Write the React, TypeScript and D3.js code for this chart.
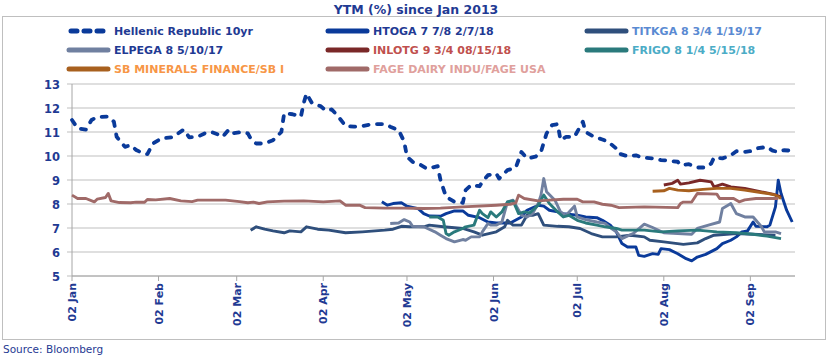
import React from "react";
import * as d3 from "d3";

// ---------- data (date "MM-DD" of 2013, YTM %) ----------
const hellenic: [string, number][] = [
  ["01-02", 11.5], ["01-04", 11.15], ["01-07", 11.1], ["01-09", 11.5], ["01-11", 11.62], ["01-15", 11.64],
  ["01-17", 11.43], ["01-18", 10.8], ["01-21", 10.38], ["01-23", 10.45], ["01-25", 10.25], ["01-28", 10.08],
  ["01-29", 10.08], ["01-31", 10.52], ["02-03", 10.73], ["02-07", 10.78], ["02-09", 10.94], ["02-11", 11.1],
  ["02-13", 10.78], ["02-16", 10.8], ["02-19", 10.97], ["02-21", 11.0], ["02-24", 10.87], ["02-25", 10.8],
  ["02-27", 11.08], ["02-28", 10.94], ["03-04", 11.0], ["03-06", 10.94], ["03-07", 10.73], ["03-08", 10.6],
  ["03-09", 10.52], ["03-12", 10.52], ["03-15", 10.66], ["03-18", 11.0], ["03-19", 11.78], ["03-22", 11.74],
  ["03-25", 11.64], ["03-26", 12.2], ["03-27", 12.6], ["03-29", 12.2], ["04-01", 12.08], ["04-03", 11.89],
  ["04-05", 11.94], ["04-07", 11.7], ["04-10", 11.25], ["04-13", 11.22], ["04-16", 11.25], ["04-20", 11.33],
  ["04-24", 11.33], ["04-26", 11.22], ["04-29", 11.08], ["05-01", 10.6], ["05-02", 9.97], ["05-04", 9.76],
  ["05-07", 9.62], ["05-09", 9.48], ["05-10", 9.48], ["05-13", 9.58], ["05-14", 9.0], ["05-16", 8.3],
  ["05-19", 8.09], ["05-22", 8.05], ["05-23", 8.58], ["05-25", 8.79], ["05-28", 8.74], ["05-29", 8.92],
  ["05-31", 9.2], ["06-03", 9.27], ["06-04", 9.06], ["06-07", 9.41], ["06-10", 9.52], ["06-12", 10.17],
  ["06-14", 9.9], ["06-17", 9.97], ["06-19", 10.17], ["06-21", 10.94], ["06-23", 11.29], ["06-25", 11.33],
  ["06-26", 10.66], ["06-28", 10.8], ["07-01", 10.8], ["07-04", 11.43], ["07-05", 11.0], ["07-08", 10.8],
  ["07-11", 10.69], ["07-13", 10.6], ["07-16", 10.31], ["07-17", 10.1], ["07-20", 9.99], ["07-23", 10.03],
  ["07-25", 9.94], ["07-29", 9.9], ["08-01", 9.83], ["08-04", 9.8], ["08-07", 9.76], ["08-08", 9.62],
  ["08-11", 9.66], ["08-14", 9.52], ["08-17", 9.52], ["08-19", 9.69], ["08-20", 9.94], ["08-23", 9.9],
  ["08-26", 10.03], ["08-28", 10.2], ["08-31", 10.17], ["09-02", 10.2], ["09-04", 10.31], ["09-08", 10.38],
  ["09-10", 10.22], ["09-12", 10.17], ["09-14", 10.24], ["09-17", 10.22],
];

const htoga: [string, number][] = [
  ["04-23", 8.09], ["04-25", 7.95], ["04-27", 8.02], ["04-30", 8.05], ["05-02", 7.91], ["05-06", 7.81],
  ["05-08", 7.6], ["05-10", 7.5], ["05-14", 7.49], ["05-16", 7.6], ["05-19", 7.71], ["05-22", 7.71],
  ["05-24", 7.53], ["05-28", 7.43], ["05-31", 7.25], ["06-03", 7.21], ["06-08", 7.21], ["06-12", 7.46],
  ["06-14", 7.74], ["06-18", 7.95], ["06-20", 7.91], ["06-22", 7.74], ["06-25", 7.67], ["06-27", 7.6],
  ["07-02", 7.53], ["07-05", 7.46], ["07-09", 7.43], ["07-11", 7.32], ["07-14", 7.1], ["07-16", 6.84],
  ["07-18", 6.35], ["07-20", 6.21], ["07-23", 6.21], ["07-24", 5.86], ["07-26", 5.82], ["07-29", 5.93],
  ["07-31", 5.9], ["08-01", 6.14], ["08-04", 6.1], ["08-07", 5.93], ["08-10", 5.72], ["08-12", 5.63],
  ["08-14", 5.79], ["08-17", 5.9], ["08-21", 6.14], ["08-23", 6.35], ["08-26", 6.49], ["08-28", 6.63],
  ["08-30", 6.84], ["09-01", 6.88], ["09-03", 7.25], ["09-04", 7.07], ["09-08", 7.05], ["09-09", 7.12],
  ["09-11", 7.88], ["09-12", 8.99], ["09-13", 8.44], ["09-15", 7.74], ["09-17", 7.25],
];

const titkga: [string, number][] = [
  ["03-07", 6.91], ["03-09", 7.05], ["03-12", 6.95], ["03-15", 6.88], ["03-19", 6.8], ["03-21", 6.88],
  ["03-25", 6.84], ["03-27", 7.05], ["03-31", 6.95], ["04-04", 6.91], ["04-10", 6.8], ["04-16", 6.84],
  ["04-24", 6.91], ["04-27", 6.95], ["04-30", 7.07], ["05-03", 7.05], ["05-08", 7.05], ["05-10", 7.12],
  ["05-15", 7.05], ["05-22", 6.98], ["05-26", 6.84], ["05-29", 6.7], ["06-03", 6.84], ["06-06", 7.05],
  ["06-07", 7.32], ["06-09", 7.12], ["06-12", 7.12], ["06-14", 7.53], ["06-16", 7.53], ["06-18", 7.6],
  ["06-20", 7.12], ["06-25", 7.07], ["06-29", 7.05], ["07-03", 6.98], ["07-07", 6.77], ["07-11", 6.63],
  ["07-16", 6.63], ["07-21", 6.7], ["07-26", 6.63], ["07-28", 6.49], ["08-02", 6.42], ["08-09", 6.32],
  ["08-14", 6.38], ["08-17", 6.56], ["08-20", 6.7], ["08-28", 6.77], ["09-11", 6.7],
];

const elpega: [string, number][] = [
  ["04-26", 7.19], ["04-29", 7.21], ["05-01", 7.35], ["05-03", 7.25], ["05-04", 7.07], ["05-08", 7.05],
  ["05-12", 6.84], ["05-14", 6.7], ["05-16", 6.56], ["05-19", 6.42], ["05-22", 6.52], ["05-23", 6.49],
  ["05-25", 6.63], ["05-28", 6.63], ["05-29", 6.84], ["05-31", 7.19], ["06-01", 7.12], ["06-03", 7.12],
  ["06-05", 7.25], ["06-07", 8.09], ["06-09", 8.16], ["06-12", 7.53], ["06-14", 7.46], ["06-16", 7.6],
  ["06-18", 8.02], ["06-19", 8.37], ["06-20", 9.06], ["06-21", 8.51], ["06-24", 8.16], ["06-26", 7.67],
  ["06-28", 7.53], ["07-01", 7.91], ["07-02", 7.46], ["07-05", 7.35], ["07-09", 7.25], ["07-12", 7.19],
  ["07-14", 7.0], ["07-16", 6.84], ["07-18", 6.56], ["07-22", 6.77], ["07-26", 7.16], ["07-29", 7.02],
  ["08-02", 6.8], ["08-07", 6.77], ["08-12", 6.74], ["08-14", 6.98], ["08-18", 7.12], ["08-22", 7.25],
  ["08-23", 7.81], ["08-25", 7.95], ["08-26", 8.02], ["08-28", 7.6], ["08-31", 7.46], ["09-03", 7.46],
  ["09-06", 7.05], ["09-07", 6.84], ["09-11", 6.84], ["09-13", 6.77],
];

const inlotg: [string, number][] = [
  ["08-02", 8.79], ["08-05", 8.86], ["08-07", 8.99], ["08-08", 8.83], ["08-11", 8.88], ["08-15", 8.99],
  ["08-19", 8.92], ["08-20", 8.71], ["08-23", 8.83], ["08-26", 8.71], ["08-31", 8.65], ["09-03", 8.58],
  ["09-07", 8.48], ["09-10", 8.41], ["09-13", 8.3],
];

const frigo: [string, number][] = [
  ["05-10", 7.46], ["05-13", 7.46], ["05-15", 7.32], ["05-16", 6.77], ["05-17", 6.7], ["05-19", 6.84],
  ["05-22", 6.98], ["05-23", 7.05], ["05-26", 7.12], ["05-28", 7.74], ["05-29", 7.6], ["05-31", 7.43],
  ["06-01", 7.67], ["06-03", 7.46], ["06-05", 7.67], ["06-07", 8.09], ["06-09", 8.13], ["06-11", 7.6],
  ["06-13", 7.67], ["06-15", 7.63], ["06-18", 7.95], ["06-20", 8.37], ["06-22", 8.02], ["06-25", 7.67],
  ["06-27", 7.46], ["06-29", 7.53], ["07-02", 7.32], ["07-05", 7.21], ["07-09", 7.12], ["07-12", 7.05],
  ["07-16", 6.98], ["07-18", 6.91], ["07-26", 6.91], ["08-01", 6.84], ["08-07", 6.88], ["08-14", 6.91],
  ["08-21", 6.84], ["08-28", 6.8], ["09-03", 6.74], ["09-08", 6.66], ["09-13", 6.56],
];

const sbMinerals: [string, number][] = [
  ["07-29", 8.53], ["08-02", 8.55], ["08-04", 8.65], ["08-07", 8.58], ["08-11", 8.55], ["08-16", 8.61],
  ["08-21", 8.65], ["08-26", 8.65], ["08-31", 8.58], ["09-04", 8.51], ["09-08", 8.44], ["09-11", 8.37],
  ["09-13", 8.23],
];

const fage: [string, number][] = [
  ["01-02", 8.37], ["01-04", 8.23], ["01-07", 8.23], ["01-10", 8.09], ["01-11", 8.2], ["01-14", 8.27],
  ["01-15", 8.44], ["01-16", 8.13], ["01-19", 8.06], ["01-23", 8.05], ["01-25", 8.08], ["01-28", 8.07],
  ["01-29", 8.19], ["02-01", 8.17], ["02-06", 8.23], ["02-10", 8.13], ["02-14", 8.1], ["02-16", 8.16],
  ["02-21", 8.16], ["02-26", 8.16], ["03-03", 8.1], ["03-06", 8.05], ["03-08", 8.08], ["03-10", 8.02],
  ["03-13", 8.09], ["03-19", 8.12], ["03-26", 8.13], ["04-02", 8.09], ["04-08", 8.13], ["04-10", 7.95],
  ["04-15", 7.95], ["04-17", 7.85], ["04-24", 7.83], ["05-01", 7.83], ["05-08", 7.81], ["05-14", 7.83],
  ["05-22", 7.88], ["06-03", 7.95], ["06-08", 7.99], ["06-10", 8.05], ["06-11", 8.37], ["06-13", 8.23],
  ["06-18", 8.13], ["06-22", 8.16], ["06-27", 8.2], ["07-02", 8.2], ["07-04", 8.09], ["07-08", 8.09],
  ["07-11", 7.99], ["07-14", 7.95], ["07-17", 7.85], ["07-26", 7.88], ["08-07", 7.85], ["08-08", 8.02],
  ["08-09", 8.08], ["08-12", 8.08], ["08-14", 8.44], ["08-21", 8.41], ["08-22", 8.23], ["08-27", 8.23],
  ["08-29", 8.09], ["08-31", 8.17], ["09-04", 8.23], ["09-12", 8.23],
];

const seriesNames = [
  "Hellenic Republic 10yr", "HTOGA 7 7/8 2/7/18", "TITKGA 8 3/4 1/19/17",
  "ELPEGA 8 5/10/17", "INLOTG 9 3/4 08/15/18", "FRIGO 8 1/4 5/15/18",
  "SB MINERALS FINANCE/SB I", "FAGE DAIRY INDU/FAGE USA",
];
const seriesData = [hellenic, htoga, titkga, elpega, inlotg, frigo, sbMinerals, fage];
const lineColors = ["#0A3A9A", "#0A3A9A", "#2F4F7C", "#7080A0", "#7A2828", "#2A7A7C", "#A8601E", "#A06A68"];
const textColors = ["#1F3A93", "#1F3A93", "#5A8AD2", "#1F3A93", "#C0504D", "#4BACC6", "#F79646", "#E0A09C"];

const yTicks = [5, 6, 7, 8, 9, 10, 11, 12, 13];
const xTickDates = ["01-02", "02-02", "03-02", "04-02", "05-02", "06-02", "07-02", "08-02", "09-02"];
const title = "YTM (%) since Jan 2013";
const source = "Source: Bloomberg";

// ---------- layout ----------
const W = 828, H = 357;
const plot = { left: 72, right: 795, top: 84, bottom: 276 };
const parse = (s: string) => d3.timeParse("%Y-%m-%d")("2013-" + s) as Date;
const FONT = "'DejaVu Sans', Verdana, sans-serif";

export default function App() {
  const x = d3.scaleTime().domain([parse("01-02"), parse("09-18")]).range([plot.left, plot.right]);
  const y = d3.scaleLinear().domain([5, 13]).range([plot.bottom, plot.top]);
  const line = d3.line<[string, number]>().x((d) => x(parse(d[0]))).y((d) => y(d[1]));

  const legendCols = [69, 328, 587];
  const legendRows = [31, 50, 69];

  return (
    <svg width={W} height={H} style={{ position: "absolute", left: 0, top: 0, background: "#fff" }}>
      <rect x={2.5} y={16.5} width={823} height={323} fill="#fff" stroke="#BFBFBF" strokeWidth={1} />
      <text x={416} y={14} textAnchor="middle" fontFamily={FONT} fontWeight="bold" fontSize={12.5} fill="#1F3A93">{title}</text>

      {/* legend */}
      {seriesNames.map((name, i) => {
        const cx = legendCols[i % 3];
        const cy = legendRows[Math.floor(i / 3)];
        return (
          <g key={name}>
            {i === 0 ? (
              <line x1={cx + 2} x2={cx + 38} y1={cy} y2={cy} stroke={lineColors[i]} strokeWidth={5}
                strokeDasharray="6 7" strokeLinecap="round" />
            ) : (
              <line x1={cx} x2={cx + 39} y1={cy} y2={cy} stroke={lineColors[i]} strokeWidth={5} strokeLinecap="round" />
            )}
            <text x={cx + 45} y={cy + 4} fontFamily={FONT} fontWeight="bold" fontSize={11} fill={textColors[i]}>{name}</text>
          </g>
        );
      })}

      {/* gridlines */}
      {yTicks.map((t) => (
        <line key={t} x1={plot.left - 5} x2={plot.right} y1={y(t)} y2={y(t)} stroke="#BFBFBF" strokeWidth={1} />
      ))}
      <line x1={plot.left} x2={plot.left} y1={plot.top} y2={plot.bottom} stroke="#A6A6A6" strokeWidth={1} />
      <line x1={plot.left} x2={plot.right} y1={plot.bottom} y2={plot.bottom} stroke="#A6A6A6" strokeWidth={1} />
      {yTicks.map((t) => (
        <text key={"yl" + t} x={60} y={y(t) + 4.5} textAnchor="end" fontFamily={FONT} fontWeight="bold" fontSize={11.5} fill="#1F3A93">{t}</text>
      ))}
      {xTickDates.map((s) => {
        const px = x(parse(s));
        return (
          <g key={s}>
            <line x1={px} x2={px} y1={plot.bottom} y2={plot.bottom + 5} stroke="#A6A6A6" />
            <text transform={`translate(${px + 4},${plot.bottom + 7}) rotate(-90)`} textAnchor="end"
              fontFamily={FONT} fontWeight="bold" fontSize={11} fill="#1F3A93">{d3.timeFormat("%d %b")(parse(s))}</text>
          </g>
        );
      })}

      {/* series */}
      {seriesData.map((data, i) => (
        <path key={seriesNames[i]} d={line(data) || ""} fill="none" stroke={lineColors[i]}
          strokeWidth={i === 0 ? 3.8 : 2.9} strokeLinejoin="round"
          strokeLinecap={i === 0 ? "round" : "butt"}
          strokeDasharray={i === 0 ? "5 8.5" : undefined} />
      ))}

      <text x={3} y={353} fontFamily={FONT} fontSize={10.5} fill="#1F3A93">{source}</text>
    </svg>
  );
}
